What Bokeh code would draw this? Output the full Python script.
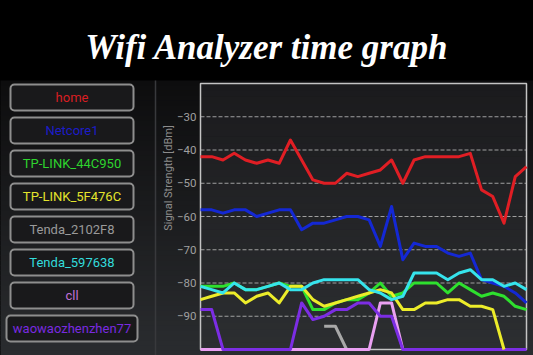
import numpy as np
from bokeh.plotting import figure
from bokeh.models import Range1d, FixedTicker, LinearAxis, ColumnDataSource, GlobalInlineStyleSheet
from bokeh.core.properties import value
from bokeh.embed import file_html
from bokeh.resources import INLINE

nan = float("nan")

# ---------------- data ----------------
title_text = "Wifi Analyzer time graph"
y_label = "Signal Strength [dBm]"
y_ticks = [-90, -80, -70, -60, -50, -40, -30]
time_idx = list(range(30))

networks = ["home", "Netcore1", "TP-LINK_44C950", "TP-LINK_5F476C",
            "Tenda_2102F8", "Tenda_597638", "cll", "waowaozhenzhen77"]
label_colors = ["#d81e22", "#1c1cc8", "#2ed42e", "#e4e42c",
                "#9a9a9a", "#33dcdc", "#c070d8", "#7a2ae0"]
line_colors = ["#e01e24", "#1428d4", "#2ee02e", "#ecec2a",
               "#a8a8a8", "#36e4ec", "#eaa0f2", "#7c2de4"]

home = [-42, -42, -43, -41, -43, -44, -43, -44, -37, -43, -49, -50, -50, -47, -48,
        -47, -46, -43, -50, -43, -42, -42, -42, -42, -41, -52, -54, -62, -48, -45]
netcore1 = [-58, -58, -59, -58, -58, -60, -59, -58, -58, -64, -62, -62, -61, -60, -60,
            -61, -69, -57, -73, -68, -69, -69, -71, -72, -71, -79, -80, -81, -83, -86]
tp_44c950 = [-81, -81, -81, -80, -82, -82, -81, -80, -81, -81, -88, -88, -86, -85, -85,
             -83, -80, -84, -83, -80, -80, -80, -83, -80, -82, -84, -83, -84, -87, -88]
tp_5f476c = [-85, -84, -83, -83, -86, -84, -83, -86, -81, -81, -85, -87, -86, -85, -84,
             -83, -82, -83, -88, -88, -86, -86, -85, -85, -87, -87, -88, -100, nan, nan]
tenda_2102f8 = [nan] * 11 + [-93, -93, -100] + [nan] * 16
tenda_597638 = [-81, -82, -83, -80, -82, -82, -81, -80, -82, -82, -80, -79, -79, -79, -79,
                -82, -83, -85, -84, -77, -77, -77, -79, -77, -76, -79, -79, -81, -80, -82]
cll = [-100] * 16 + [-86, -86, -100] + [nan] * 11
waowao = [-88, -88, -100, -100, -100, -100, -100, -100, -100, -86, -91, -90, -88, -88, -86,
          -86, -90, -90] + [-100] * 12

series = [home, netcore1, tp_44c950, tp_5f476c, tenda_2102f8, tenda_597638, cll, waowao]
draw_order = [0, 1, 4, 6, 7, 2, 3, 5]

# ---------------- canvas geometry (pixels) ----------------
W, H = 533, 355
FL, FR, FT, FB = 200, 526, 83, 349          # chart frame edges
n = len(time_idx) - 1
xs = n / (FR - FL)
ys = 80 / (FB - FT)

p = figure(width=W, height=H, x_range=Range1d(0, W), y_range=Range1d(H, 0),
           output_backend="svg", toolbar_location=None, min_border=0,
           x_axis_location=None, y_axis_location=None,
           background_fill_color="#000000", border_fill_color="#000000",
           outline_line_color=None)
p.stylesheets = [GlobalInlineStyleSheet(css="html,body{margin:0;padding:0;background:#000000;}")]
p.styles = {"background-color": "#000000"}
p.grid.visible = False
p.extra_x_ranges = {"t": Range1d(0 - FL * xs, n + (W - FR) * xs)}
p.extra_y_ranges = {"dbm": Range1d(-100 - (H - FB) * ys, -20 + FT * ys)}


def mix(c0, c1, f):
    a = [int(c0[i:i + 2], 16) for i in (1, 3, 5)]
    b = [int(c1[i:i + 2], 16) for i in (1, 3, 5)]
    return "#%02x%02x%02x" % tuple(int(round(a[k] + (b[k] - a[k]) * f)) for k in range(3))


# lower panel gradient background
edges = np.linspace(80, H, 56)
p.quad(left=-2, right=W + 2, top=edges[:-1], bottom=edges[1:] + 0.6,
       fill_color=[mix("#0d0d0e", "#2a2c2f", i / 54) for i in range(55)], line_color=None)
p.segment(x0=[155], y0=[80], x1=[155], y1=[H], line_color="#38393c", line_width=1.5)

# title
p.text(x=[W / 2], y=[47], text=[title_text], text_font=value("Liberation Serif"),
       text_font_style="bold italic", text_font_size="35px", text_color="#ffffff",
       text_align="center", text_baseline="alphabetic")

# legend buttons
centers = [97 + 33 * i for i in range(len(networks))]
halfw = [61.5] * 7 + [65.5]
src = ColumnDataSource(dict(
    left=[71.5 - h for h in halfw], right=[71.5 + h for h in halfw],
    top=[c - 13 for c in centers], bottom=[c + 13 for c in centers],
    yc=centers, xc=[71.5] * len(networks), name=networks, col=label_colors))
p.quad(left="left", right="right", top="top", bottom="bottom", source=src,
       fill_color="#19191b", line_color="#8e8e8e", line_width=2, border_radius=4)
p.text(x="xc", y="yc", text="name", text_color="col", source=src,
       text_font=value("Roboto"), text_font_size="13px",
       text_align="center", text_baseline="middle")

# chart frame background (gradient) in chart coordinates
yb = np.linspace(-100, -20, 41)
p.quad(left=0, right=n, bottom=yb[:-1], top=yb[1:] + 0.15,
       fill_color=[mix("#2c2e31", "#1b1b1d", i / 39) for i in range(40)], line_color=None,
       x_range_name="t", y_range_name="dbm")

# grid lines
p.segment(x0=[0] * len(y_ticks), x1=[n] * len(y_ticks), y0=y_ticks, y1=y_ticks,
          line_color="#a0a0a0", line_width=1, line_dash="4 2",
          x_range_name="t", y_range_name="dbm")

# frame outline
p.quad(left=[0], right=[n], bottom=[-100], top=[-20], fill_color=None,
       line_color="#c4c4c4", line_width=1.5, x_range_name="t", y_range_name="dbm")

# y axis placed next to the frame's left edge
ax = LinearAxis(x_range_name="t", y_range_name="dbm", fixed_location=5 * xs,
                ticker=FixedTicker(ticks=y_ticks))
ax.axis_line_color = None
ax.major_tick_line_color = None
ax.minor_tick_line_color = None
ax.major_label_text_color = "#a0a0a0"
ax.major_label_text_font = "Roboto"
ax.major_label_text_font_size = "11.5px"
ax.major_label_standoff = 3
ax.axis_label = y_label
ax.axis_label_text_color = "#8c8c8c"
ax.axis_label_text_font = "Roboto"
ax.axis_label_text_font_style = "normal"
ax.axis_label_text_font_size = "11px"
ax.axis_label_standoff = -1
p.add_layout(ax, "left")

# signal lines
for i in draw_order:
    p.line(x=time_idx, y=np.array(series[i], dtype=float), line_color=line_colors[i],
           line_width=3, line_join="round", x_range_name="t", y_range_name="dbm")

open("out.html", "w").write(file_html(p, INLINE))
